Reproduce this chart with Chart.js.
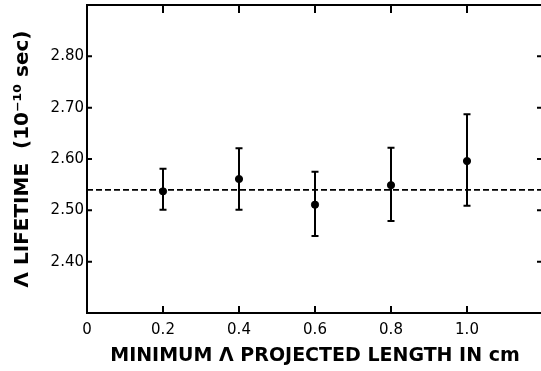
<!DOCTYPE html>
<html>
<head>
<meta charset="utf-8">
<script src="https://cdn.jsdelivr.net/npm/chart.js@4/dist/chart.umd.min.js"></script>
<style>
html,body{margin:0;padding:0;background:#fff;overflow:hidden;}
#wrap{width:550px;height:371px;position:relative;}
</style>
</head>
<body>
<div id="wrap"><canvas id="c" width="550" height="371"></canvas></div>
<script>
// ---- data ----
const minLength = [0.2, 0.4, 0.6, 0.8, 1.0];          // cm
const lifetime  = [2.537, 2.561, 2.511, 2.549, 2.596]; // 10^-10 sec
const errLow    = [2.501, 2.501, 2.450, 2.479, 2.509];
const errHigh   = [2.581, 2.621, 2.575, 2.622, 2.687];
const meanLifetime = 2.54;
const xTickValues = [0, 0.2, 0.4, 0.6, 0.8, 1.0];
const xTickLabels = ['0', '0.2', '0.4', '0.6', '0.8', '1.0'];
const yTickValues = [2.40, 2.50, 2.60, 2.70, 2.80];
const yTickLabels = ['2.40', '2.50', '2.60', '2.70', '2.80'];
const xRange = [0, 1.2];
const yRange = [2.30, 2.90];
const xTitle = 'MINIMUM \u039B PROJECTED LENGTH IN cm';
const yTitle = '\u039B LIFETIME  (10\u207B\u00B9\u2070 sec)';

const points = minLength.map((x, i) => ({x: x, y: lifetime[i]}));
const meanLine = [{x: xRange[0], y: meanLifetime}, {x: xRange[1], y: meanLifetime}];

const frame = {
  id: 'frame',
  beforeDatasetsDraw(chart) {
    const {ctx, scales: {x, y}} = chart;
    ctx.save();
    ctx.strokeStyle = '#000';
    ctx.lineWidth = 2;
    for (let i = 0; i < minLength.length; i++) {
      const px = x.getPixelForValue(minLength[i]);
      const lo = y.getPixelForValue(errLow[i]);
      const hi = y.getPixelForValue(errHigh[i]);
      ctx.beginPath();
      ctx.moveTo(px, lo); ctx.lineTo(px, hi);
      ctx.moveTo(px - 3.5, lo); ctx.lineTo(px + 3.5, lo);
      ctx.moveTo(px - 3.5, hi); ctx.lineTo(px + 3.5, hi);
      ctx.stroke();
    }
    ctx.restore();
  },
  afterDraw(chart) {
    const {ctx, chartArea: a, scales: {x, y}} = chart;
    ctx.save();
    ctx.strokeStyle = '#000';
    ctx.lineWidth = 2;
    ctx.strokeRect(a.left, a.top, a.right - a.left, a.bottom - a.top);
    ctx.beginPath();
    xTickValues.forEach(v => {
      if (v <= xRange[0]) return;
      const px = x.getPixelForValue(v);
      ctx.moveTo(px, a.bottom); ctx.lineTo(px, a.bottom - 7);
      ctx.moveTo(px, a.top); ctx.lineTo(px, a.top + 8);
    });
    yTickValues.forEach(v => {
      const py = y.getPixelForValue(v);
      ctx.moveTo(a.left, py); ctx.lineTo(a.left + 5, py);
      ctx.moveTo(a.right, py); ctx.lineTo(a.right - 6, py);
    });
    ctx.stroke();
    ctx.restore();
  }
};

new Chart(document.getElementById('c'), {
  type: 'scatter',
  data: {
    datasets: [
      {
        data: meanLine, type: 'line', showLine: true,
        borderColor: '#000', borderWidth: 1.7, borderDash: [6, 3],
        pointRadius: 0, fill: false, order: 2
      },
      {
        data: points,
        backgroundColor: '#000', borderColor: '#000',
        pointRadius: 3.6, pointHoverRadius: 3.6, order: 1
      }
    ]
  },
  options: {
    responsive: false,
    animation: false,
    events: [],
    layout: {padding: {top: 5, right: 7, left: 0, bottom: 0}},
    plugins: {legend: {display: false}, tooltip: {enabled: false}},
    scales: {
      x: {
        type: 'linear', min: xRange[0], max: xRange[1],
        grid: {display: false, drawTicks: false, tickLength: 0}, border: {display: false},
        afterBuildTicks(s) { s.ticks = xTickValues.map(v => ({value: v})); },
        afterFit(s) { s.height = 58; s.paddingLeft = 0; s.paddingRight = 0; },
        ticks: {
          autoSkip: false, maxRotation: 0, padding: 8, color: '#000',
          font: {family: 'DejaVu Sans', size: 15},
          callback: (v) => { const i = xTickValues.findIndex(t => Math.abs(t - v) < 1e-6); return i >= 0 ? xTickLabels[i] : ''; }
        },
        title: {
          display: true, text: xTitle, color: '#000',
          font: {family: 'DejaVu Sans', size: 19, weight: 'bold'},
          padding: {top: 0, bottom: 4}
        }
      },
      y: {
        type: 'linear', min: yRange[0], max: yRange[1],
        grid: {display: false, drawTicks: false, tickLength: 0}, border: {display: false},
        afterBuildTicks(s) { s.ticks = yTickValues.map(v => ({value: v})); },
        afterFit(s) { s.width = 87; s.paddingTop = 0; s.paddingBottom = 0; },
        ticks: {
          padding: 3, color: '#000',
          font: {family: 'DejaVu Sans', size: 15},
          callback: (v) => { const i = yTickValues.findIndex(t => Math.abs(t - v) < 1e-6); return i >= 0 ? yTickLabels[i] : ''; }
        },
        title: {
          display: true, text: yTitle, color: '#000',
          font: {family: 'DejaVu Sans', size: 20, weight: 'bold'},
          padding: {top: 11, bottom: 0}
        }
      }
    }
  },
  plugins: [frame]
});
</script>
</body>
</html>
